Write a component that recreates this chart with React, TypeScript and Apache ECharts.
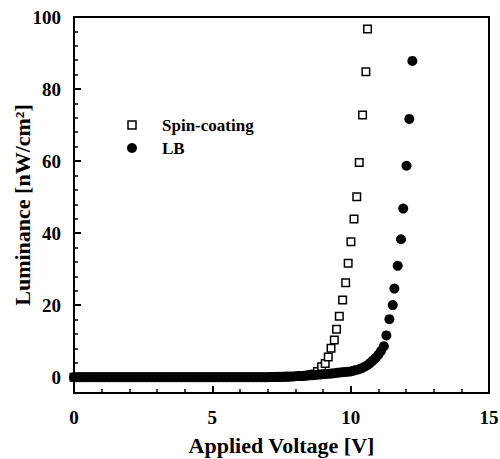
import React, { useEffect, useRef } from "react";
import * as echarts from "echarts";

// Tick values
const xTicks = [0, 5, 10, 15];
const yMajorTicks = [0, 20, 40, 60, 80, 100];
const yMinorTicks = [4, 8, 12, 16, 24, 28, 32, 36, 44, 48, 52, 56, 64, 68, 72, 76, 84, 88, 92, 96];

// Spin-coating device (open squares)
const spinVoltage = [
  0, 0.1, 0.2, 0.3, 0.4, 0.5, 0.6, 0.7, 0.8, 0.9,
  1, 1.1, 1.2, 1.3, 1.4, 1.5, 1.6, 1.7, 1.8, 1.9,
  2, 2.1, 2.2, 2.3, 2.4, 2.5, 2.6, 2.7, 2.8, 2.9,
  3, 3.1, 3.2, 3.3, 3.4, 3.5, 3.6, 3.7, 3.8, 3.9,
  4, 4.1, 4.2, 4.3, 4.4, 4.5, 4.6, 4.7, 4.8, 4.9,
  5, 5.1, 5.2, 5.3, 5.4, 5.5, 5.6, 5.7, 5.8, 5.9,
  6, 6.1, 6.2, 6.3, 6.4, 6.5, 6.6, 6.7, 6.8, 6.9,
  7, 7.1, 7.2, 7.3, 7.4, 7.5, 7.6, 7.7, 7.8, 7.9,
  8, 8.1, 8.2, 8.3, 8.4, 8.5, 8.6, 8.7, 8.8,
  8.95, 9.08, 9.19, 9.29, 9.41, 9.49, 9.59, 9.71, 9.82, 9.91,
  10.01, 10.12, 10.22, 10.31, 10.43, 10.55, 10.61,
];
const spinLuminance = [
  0, 0, 0, 0, 0, 0, 0, 0, 0, 0,
  0, 0, 0, 0, 0, 0, 0, 0, 0, 0,
  0, 0, 0, 0, 0, 0, 0, 0, 0, 0,
  0, 0, 0, 0, 0, 0, 0, 0, 0, 0,
  0, 0, 0, 0, 0, 0, 0, 0, 0, 0,
  0, 0, 0, 0, 0, 0, 0, 0, 0, 0,
  0, 0, 0, 0, 0, 0, 0, 0, 0, 0,
  0, 0, 0, 0, 0, 0.05, 0.05, 0.1, 0.1, 0.15,
  0.2, 0.25, 0.3, 0.35, 0.45, 0.55, 0.7, 0.9, 1.6,
  2.9, 3.8, 5.6, 8.0, 10.3, 13.3, 16.9, 21.4, 26.2, 31.6,
  37.6, 43.9, 50.1, 59.6, 72.8, 84.8, 96.7,
];

// LB device (filled circles)
const lbVoltage = [
  0, 0.1, 0.2, 0.3, 0.4, 0.5, 0.6, 0.7, 0.8, 0.9,
  1, 1.1, 1.2, 1.3, 1.4, 1.5, 1.6, 1.7, 1.8, 1.9,
  2, 2.1, 2.2, 2.3, 2.4, 2.5, 2.6, 2.7, 2.8, 2.9,
  3, 3.1, 3.2, 3.3, 3.4, 3.5, 3.6, 3.7, 3.8, 3.9,
  4, 4.1, 4.2, 4.3, 4.4, 4.5, 4.6, 4.7, 4.8, 4.9,
  5, 5.1, 5.2, 5.3, 5.4, 5.5, 5.6, 5.7, 5.8, 5.9,
  6, 6.1, 6.2, 6.3, 6.4, 6.5, 6.6, 6.7, 6.8, 6.9,
  7, 7.1, 7.2, 7.3, 7.4, 7.5, 7.6, 7.7, 7.8, 7.9,
  8, 8.1, 8.2, 8.3, 8.4, 8.5, 8.6, 8.7, 8.8, 8.9,
  9, 9.1, 9.2, 9.3, 9.4, 9.5, 9.6, 9.7, 9.8, 9.9,
  10, 10.1, 10.2, 10.3, 10.4, 10.5, 10.6, 10.7, 10.8, 10.9,
  11, 11.1,
  11.2, 11.29, 11.4, 11.52, 11.58, 11.7, 11.82, 11.9, 12.02, 12.12, 12.23,
];
const lbLuminance = [
  0, 0, 0, 0, 0, 0, 0, 0, 0, 0,
  0, 0, 0, 0, 0, 0, 0, 0, 0, 0,
  0, 0, 0, 0, 0, 0, 0, 0, 0, 0,
  0, 0, 0, 0, 0, 0, 0, 0, 0, 0,
  0, 0, 0, 0, 0, 0, 0, 0, 0, 0,
  0, 0, 0, 0, 0, 0, 0, 0, 0, 0,
  0, 0, 0, 0, 0, 0, 0, 0, 0, 0,
  0, 0.05, 0.05, 0.1, 0.1, 0.1, 0.15, 0.15, 0.2, 0.2,
  0.25, 0.3, 0.35, 0.4, 0.45, 0.5, 0.55, 0.6, 0.7, 0.75,
  0.8, 0.9, 0.95, 1.0, 1.1, 1.2, 1.3, 1.35, 1.45, 1.5,
  1.6, 1.8, 2.0, 2.2, 2.5, 2.9, 3.3, 3.9, 4.6, 5.3,
  6.2, 7.3,
  8.6, 11.6, 16.1, 20.0, 24.6, 30.9, 38.3, 46.8, 58.7, 71.7, 87.8,
];

const seriesNames = ["Spin-coating", "LB"];
const xTitle = "Applied Voltage [V]";
const yTitle = "Luminance [nW/cm²]";

const FONT = "'Liberation Serif', 'Times New Roman', serif";

export default function App() {
  const ref = useRef<HTMLDivElement>(null);

  useEffect(() => {
    if (!ref.current) return;
    const chart = echarts.init(ref.current, undefined, { renderer: "svg" });

    const spinData = spinVoltage.map((v, i) => [v, spinLuminance[i]]);
    const lbData = lbVoltage.map((v, i) => [v, lbLuminance[i]]);

    const tickLabelStyle = {
      color: "#000",
      fontFamily: FONT,
      fontWeight: "bold" as const,
      fontSize: 19,
    };

    chart.setOption({
      animation: false,
      backgroundColor: "#fff",
      grid: {
        left: 74,
        right: 11,
        top: 17,
        bottom: 66,
        containLabel: false,
        outerBoundsMode: "none",
        show: true,
        borderColor: "#000",
        borderWidth: 2,
        backgroundColor: "transparent",
      },
      xAxis: {
        type: "value",
        min: 0,
        max: 15,
        interval: 5,
        name: xTitle,
        nameLocation: "middle",
        nameGap: 41,
        nameMoveOverlap: false,
        nameTextStyle: { color: "#000", fontFamily: FONT, fontWeight: "bold", fontSize: 22 },
        axisLine: { onZero: false, lineStyle: { color: "#000", width: 2 } },
        axisTick: { inside: true, length: 7, lineStyle: { color: "#000", width: 2 } },
        minorTick: { show: true, splitNumber: 5, length: 4, lineStyle: { color: "#000", width: 1.5 } },
        axisLabel: { ...tickLabelStyle, margin: 15, customValues: xTicks },
        splitLine: { show: false },
      },
      yAxis: [
        {
          type: "value",
          min: -4.4,
          max: 100,
          position: "left",
          name: yTitle,
          nameLocation: "middle",
          nameGap: 41,
          nameMoveOverlap: false,
          nameRotate: 90,
          nameTextStyle: { color: "#000", fontFamily: FONT, fontWeight: "bold", fontSize: 22 },
          axisLine: { onZero: false, lineStyle: { color: "#000", width: 2 } },
          axisTick: { inside: true, length: 7, customValues: yMajorTicks, lineStyle: { color: "#000", width: 2 } },
          axisLabel: { ...tickLabelStyle, margin: 13, customValues: yMajorTicks },
          splitLine: { show: false },
        },
        {
          type: "value",
          min: -4.4,
          max: 100,
          position: "left",
          offset: 0,
          axisLine: { show: false, onZero: false },
          axisTick: { show: true, inside: true, length: 4, customValues: yMinorTicks, lineStyle: { color: "#000", width: 1.5 } },
          axisLabel: { show: false },
          splitLine: { show: false },
        },
      ],
      series: [
        {
          name: seriesNames[0],
          type: "scatter",
          clip: false,
          symbol: "rect",
          symbolSize: 7.5,
          itemStyle: { color: "#fff", borderColor: "#000", borderWidth: 1.5, opacity: 1 },
          data: spinData,
          z: 2,
        },
        {
          name: seriesNames[1],
          type: "scatter",
          clip: false,
          symbol: "circle",
          symbolSize: 10,
          itemStyle: { color: "#000", opacity: 1 },
          data: lbData,
          z: 3,
        },
      ],
      graphic: [
        {
          type: "rect",
          shape: { x: 128, y: 121, width: 8, height: 8 },
          style: { fill: "#fff", stroke: "#000", lineWidth: 1.5 },
        },
        {
          type: "text",
          x: 162,
          y: 125,
          style: {
            text: seriesNames[0],
            fill: "#000",
            font: `bold 17px ${FONT}`,
            verticalAlign: "middle",
          },
        },
        {
          type: "circle",
          shape: { cx: 132, cy: 148, r: 5 },
          style: { fill: "#000" },
        },
        {
          type: "text",
          x: 162,
          y: 148,
          style: {
            text: seriesNames[1],
            fill: "#000",
            font: `bold 17px ${FONT}`,
            verticalAlign: "middle",
          },
        },
      ],
    });

    return () => chart.dispose();
  }, []);

  return <div ref={ref} style={{ width: 500, height: 459, position: "absolute", left: 0, top: 0 }} />;
}
